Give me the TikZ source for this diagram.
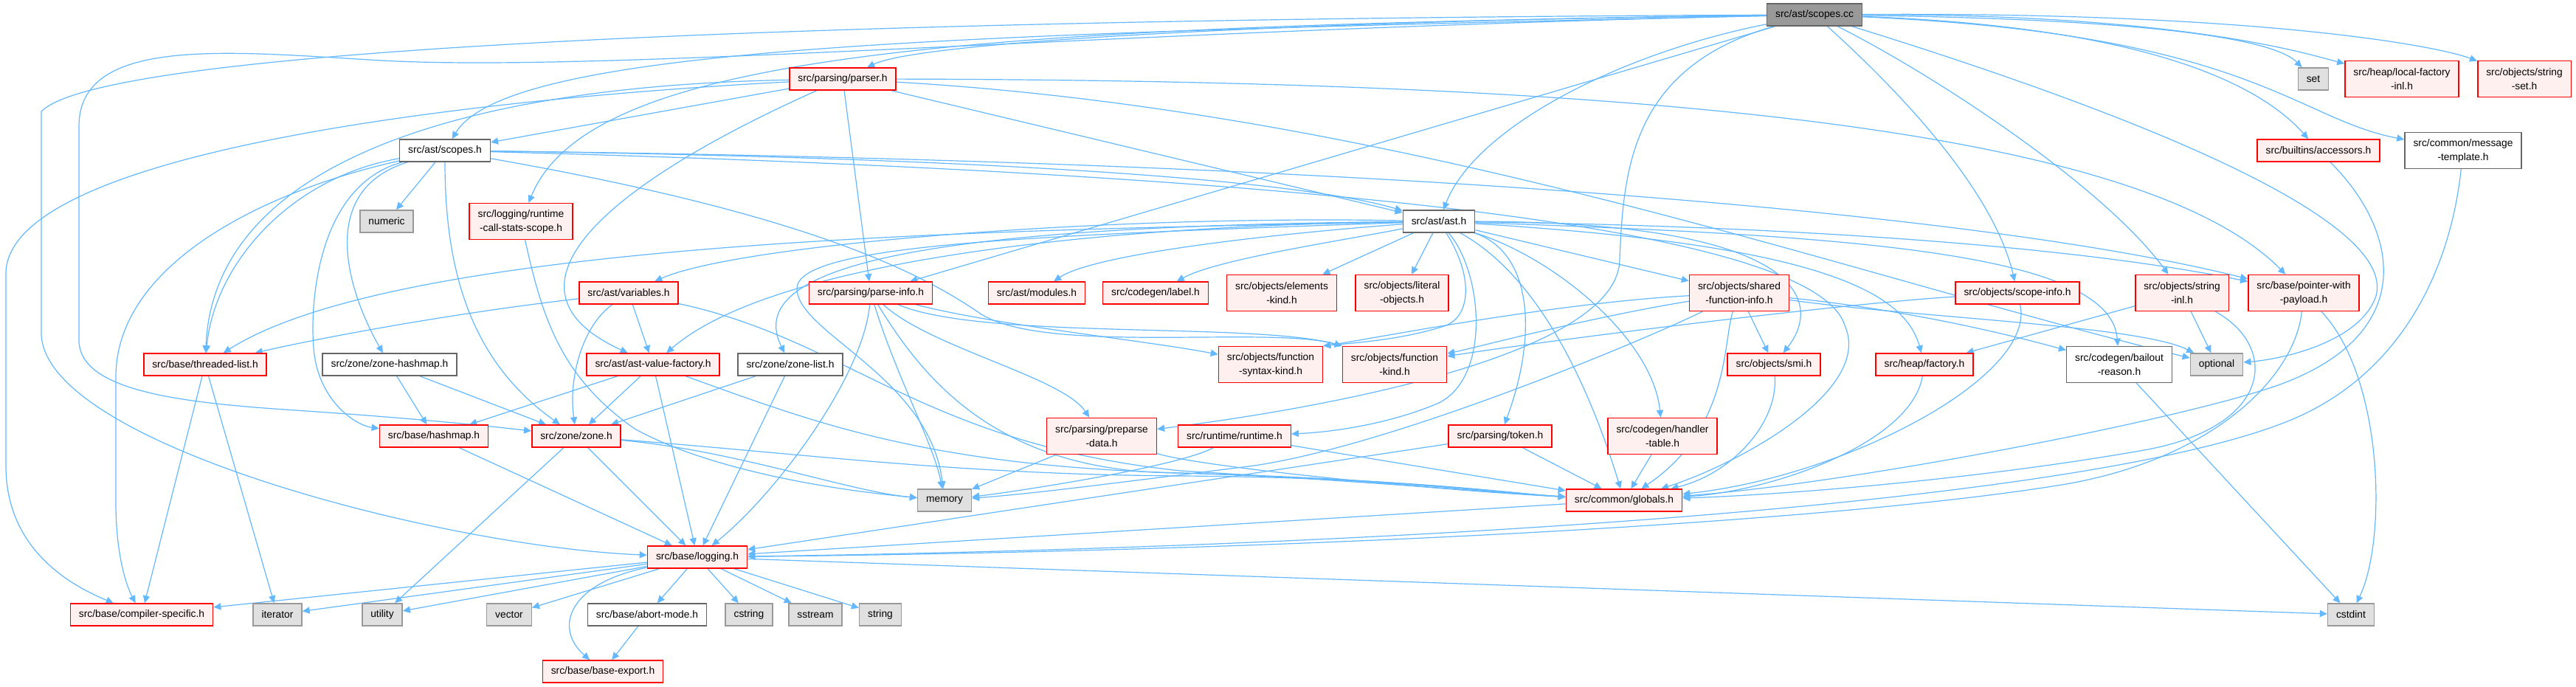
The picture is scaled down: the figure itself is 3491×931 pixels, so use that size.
\documentclass[tikz,border=0pt]{standalone}
\usepackage{fontspec}
\setmainfont{Liberation Sans}
\usetikzlibrary{arrows.meta}
\pgfdeclarelayer{bg}
\pgfsetlayers{bg,main}
\definecolor{edgec}{HTML}{63B8FF}
\definecolor{redfill}{HTML}{FFF0F0}
\definecolor{redline}{HTML}{FF0000}
\definecolor{grayfill}{HTML}{E0E0E0}
\definecolor{grayline}{HTML}{999999}
\definecolor{whiteline}{HTML}{666666}
\definecolor{rootfill}{HTML}{999999}
\definecolor{rootline}{HTML}{666666}
\tikzset{
  nbase/.style={draw, line width=0.75pt, font=\fontsize{6.9}{9.5}\selectfont, inner xsep=5.75pt, inner ysep=2pt, minimum height=15pt, align=center, text=black},
  redn/.style={nbase, draw=redline, fill=redfill},
  redn2/.style={redn, minimum height=24.5pt},
  whiten/.style={nbase, draw=whiteline, fill=white},
  whiten2/.style={whiten, minimum height=24.5pt},
  grayn/.style={nbase, draw=grayline, fill=grayfill},
  rootn/.style={nbase, draw=rootline, fill=rootfill},
  edg/.style={draw=edgec, line width=0.6pt, -{Triangle[length=5pt,width=4.6pt]}}
}
\begin{document}
\begin{tikzpicture}[x=0.5pt,y=0.5pt]
\useasboundingbox (0,0) rectangle (3491,931);
% nodes
\node[rootn] (scopescc) at (2459,911) {src/ast/scopes.cc};
\node[redn] (parser) at (1142,824) {src/parsing/parser.h};
\node[grayn] (set) at (3135,824) {set};
\node[redn2] (lfinl) at (3255,824) {src/heap/local-factory\\-inl.h};
\node[redn2] (strset) at (3421,824) {src/objects/string\\-set.h};
\node[whiten] (scopesh) at (603,727) {src/ast/scopes.h};
\node[redn] (accessors) at (3142,727) {src/builtins/accessors.h};
\node[whiten2] (msgtmpl) at (3338,727) {src/common/message\\-template.h};
\node[grayn] (numeric) at (524,631) {numeric};
\node[redn2] (rcss) at (706,631) {src/logging/runtime\\-call-stats-scope.h};
\node[whiten] (asth) at (1950,631) {src/ast/ast.h};
\node[redn] (variables) at (852,534) {src/ast/variables.h};
\node[redn] (parseinfo) at (1180,534) {src/parsing/parse-info.h};
\node[redn] (modules) at (1405,534) {src/ast/modules.h};
\node[redn] (label) at (1566,534) {src/codegen/label.h};
\node[redn2] (elkind) at (1737,534) {src/objects/elements\\-kind.h};
\node[redn2] (litobj) at (1900,534) {src/objects/literal\\-objects.h};
\node[redn2] (sfi) at (2357,534) {src/objects/shared\\-function-info.h};
\node[redn] (scopeinfo) at (2734,534) {src/objects/scope-info.h};
\node[redn2] (strinl) at (2957,534) {src/objects/string\\-inl.h};
\node[redn2] (pwp) at (3122,534) {src/base/pointer-with\\-payload.h};
\node[redn] (tlist) at (278,437) {src/base/threaded-list.h};
\node[whiten] (zhash) at (528,437) {src/zone/zone-hashmap.h};
\node[redn] (avf) at (885,437) {src/ast/ast-value-factory.h};
\node[whiten] (zlist) at (1071,437) {src/zone/zone-list.h};
\node[redn2] (fsk) at (1722,437) {src/objects/function\\-syntax-kind.h};
\node[redn2] (fkind) at (1890,437) {src/objects/function\\-kind.h};
\node[redn] (smi) at (2404,437) {src/objects/smi.h};
\node[redn] (factory) at (2608,437) {src/heap/factory.h};
\node[whiten2] (bailout) at (2872,437) {src/codegen/bailout\\-reason.h};
\node[grayn] (optional) at (3004,437) {optional};
\node[redn] (hashmap) at (588,340) {src/base/hashmap.h};
\node[redn] (zone) at (781,340) {src/zone/zone.h};
\node[redn2] (preparse) at (1493,340) {src/parsing/preparse\\-data.h};
\node[redn] (runtime) at (1673,340) {src/runtime/runtime.h};
\node[redn] (token) at (2033,340) {src/parsing/token.h};
\node[redn2] (htable) at (2253,340) {src/codegen/handler\\-table.h};
\node[grayn] (memory) at (1280,253) {memory};
\node[redn] (globals) at (2201,253) {src/common/globals.h};
\node[redn] (logging) at (945,176) {src/base/logging.h};
\node[redn] (compspec) at (192,98) {src/base/compiler-specific.h};
\node[grayn] (iterator) at (376,98) {iterator};
\node[grayn] (utility) at (518,98) {utility};
\node[grayn] (vector) at (690,98) {vector};
\node[whiten] (abort) at (877,98) {src/base/abort-mode.h};
\node[grayn] (cstring) at (1015,98) {cstring};
\node[grayn] (sstream) at (1105,98) {sstream};
\node[grayn] (string) at (1193,98) {string};
\node[grayn] (cstdint) at (3186,98) {cstdint};
\node[redn] (bexport) at (817,21) {src/base/base-export.h};
% edges
\begin{pgfonlayer}{bg}
\fill[white] (0,0) rectangle (3491,931);
% scopes.cc
\draw[edg] (scopescc) .. controls (1300,885) and (690,870) .. (scopesh);
\draw[edg] (scopescc) .. controls (1300,906) and (150,875) .. (56,780) -- (56,480) .. controls (56,330) and (600,190) .. (logging);
\draw[edg] (scopescc) .. controls (1500,890) and (800,830) .. (500,850) .. controls (300,862) and (107,880) .. (107,760) -- (107,470) .. controls (107,400) and (250,385) .. (400,375) .. controls (550,365) and (650,355) .. (zone);
\draw[edg] (scopescc) .. controls (1300,895) and (800,860) .. (rcss);
\draw[edg] (scopescc) .. controls (1900,905) and (1260,880) .. (parser);
\draw[edg] (scopescc) -- (parseinfo);
\draw[edg] (scopescc) .. controls (2200,860) and (2000,760) .. (asth);
\draw[edg] (scopescc) .. controls (2210,840) and (2200,700) .. (2195,580) .. controls (2195,460) and (1850,385) .. (preparse);
\draw[edg] (scopescc) .. controls (2560,820) and (2700,680) .. (scopeinfo);
\draw[edg] (scopescc) .. controls (2620,830) and (2850,680) .. (strinl);
\draw[edg] (scopescc) .. controls (2850,790) and (3250,640) .. (3220,530) .. controls (3200,470) and (3100,445) .. (optional);
\draw[edg] (scopescc) .. controls (2900,905) and (3080,880) .. (set);
\draw[edg] (scopescc) .. controls (2950,912) and (3120,860) .. (lfinl);
\draw[edg] (scopescc) .. controls (3050,915) and (3300,870) .. (strset);
\draw[edg] (scopescc) .. controls (2900,895) and (3060,820) .. (accessors);
\draw[edg] (scopescc) .. controls (3050,885) and (3110,770) .. (msgtmpl);
% parser.h
\draw[edg] (parser) -- (scopesh);
\draw[edg] (parser) .. controls (650,815) and (290,720) .. (tlist);
\draw[edg] (parser) .. controls (600,795) and (8,720) .. (8,560) -- (8,300) .. controls (8,190) and (90,140) .. (compspec);
\draw[edg] (parser) .. controls (820,680) and (660,540) .. (avf);
\draw[edg] (parser) -- (parseinfo);
\draw[edg] (parser) -- (asth);
\draw[edg] (parser) .. controls (2200,822) and (2900,760) .. (pwp);
\draw[edg] (parser) .. controls (1900,780) and (2500,560) .. (optional);
% scopes.h
\draw[edg] (scopesh) -- (numeric);
\draw[edg] (scopesh) .. controls (1300,718) and (1750,690) .. (asth);
\draw[edg] (scopesh) .. controls (1900,712) and (2700,640) .. (pwp);
\draw[edg] (scopesh) .. controls (1800,695) and (2460,620) .. (2500,490) .. controls (2540,400) and (2350,300) .. (globals);
\draw[edg] (scopesh) .. controls (1100,640) and (1250,560) .. (1330,505) .. controls (1420,450) and (1720,490) .. (fkind.north west);
\draw[edg] (scopesh) .. controls (350,670) and (157,570) .. (157,420) -- (157,250) .. controls (157,170) and (175,130) .. (compspec);
\draw[edg] (scopesh) .. controls (390,690) and (290,570) .. (tlist);
\draw[edg] (scopesh) .. controls (430,680) and (420,520) .. (425,460) .. controls (430,390) and (480,355) .. (hashmap);
\draw[edg] (scopesh) .. controls (420,670) and (480,520) .. (zhash);
\draw[edg] (scopesh) .. controls (603,560) and (640,440) .. (zone);
% runtime-call-stats-scope.h
\draw[edg] (rcss) .. controls (735,500) and (760,420) .. (860,350) .. controls (950,300) and (1100,270) .. (memory);
% ast.h
\draw[edg] (asth) .. controls (1400,612) and (1080,600) .. (1080,540) .. controls (1080,480) and (1260,420) .. (memory);
\draw[edg] (asth) .. controls (1500,625) and (1050,580) .. (avf);
\draw[edg] (asth) .. controls (1500,640) and (1000,600) .. (variables);
\draw[edg] (asth) .. controls (1300,625) and (1000,580) .. (zlist);
\draw[edg] (asth) .. controls (1400,620) and (550,610) .. (tlist);
\draw[edg] (asth) .. controls (1700,612) and (1480,585) .. (modules);
\draw[edg] (asth) .. controls (1820,605) and (1650,580) .. (label);
\draw[edg] (asth) -- (elkind);
\draw[edg] (asth) -- (litobj);
\draw[edg] (asth) .. controls (1995,560) and (1995,505) .. (1960,490) .. controls (1900,470) and (1830,466) .. (fsk.north east);
\draw[edg] (asth) .. controls (2075,590) and (2085,480) .. (token);
\draw[edg] (asth) .. controls (2110,580) and (2240,470) .. (htable);
\draw[edg] (asth) .. controls (2080,560) and (2150,420) .. (globals);
\draw[edg] (asth) -- (sfi);
\draw[edg] (asth) .. controls (2450,630) and (2470,520) .. (smi);
\draw[edg] (asth) .. controls (2450,600) and (2580,540) .. (factory);
\draw[edg] (asth) .. controls (2500,612) and (2860,590) .. (bailout);
\draw[edg] (asth) .. controls (2400,625) and (2800,600) .. (pwp);
\draw[edg] (asth) .. controls (2010,560) and (2020,420) .. (1950,385) .. controls (1880,355) and (1800,345) .. (runtime);
% variables.h
\draw[edg] (variables) .. controls (600,505) and (420,470) .. (tlist);
\draw[edg] (variables) .. controls (790,490) and (770,420) .. (zone);
\draw[edg] (variables) -- (avf);
\draw[edg] (variables) .. controls (1150,470) and (1250,330) .. (1600,293) .. controls (1900,275) and (2050,262) .. (globals);
% ast-value-factory.h
\draw[edg] (avf) -- (hashmap);
\draw[edg] (avf) -- (zone);
\draw[edg] (avf) -- (logging);
\draw[edg] (avf) .. controls (1100,360) and (1250,300) .. (1600,290) .. controls (1900,282) and (2050,262) .. (globals);
% zone-list.h, zone-hashmap.h, threaded-list.h
\draw[edg] (zlist) -- (zone);
\draw[edg] (zlist) -- (logging);
\draw[edg] (zhash) -- (hashmap);
\draw[edg] (zhash) -- (zone);
\draw[edg] (tlist) -- (iterator);
\draw[edg] (tlist) -- (compspec);
% hashmap.h, zone.h
\draw[edg] (hashmap) -- (logging);
\draw[edg] (zone) -- (utility);
\draw[edg] (zone) -- (logging);
\draw[edg] (zone) .. controls (1000,320) and (1150,265) .. (memory);
\draw[edg] (zone) .. controls (1100,315) and (1300,288) .. (1600,286) .. controls (1900,284) and (2050,262) .. (globals);
% parse-info.h
\draw[edg] (parseinfo) .. controls (1170,420) and (1050,260) .. (logging);
\draw[edg] (parseinfo) .. controls (1260,460) and (1440,420) .. (preparse);
\draw[edg] (parseinfo) .. controls (1215,420) and (1265,330) .. (memory);
\draw[edg] (parseinfo) .. controls (1350,490) and (1550,470) .. (fsk);
\draw[edg] (parseinfo) .. controls (1330,470) and (1700,495) .. (fkind.north west);
\draw[edg] (parseinfo) .. controls (1250,420) and (1350,290) .. (1600,290) .. controls (1900,280) and (2050,262) .. (globals);
% preparse-data.h, runtime.h, token.h, handler-table.h
\draw[edg] (preparse) -- (memory);
\draw[edg] (preparse) .. controls (1620,300) and (1900,270) .. (globals);
\draw[edg] (runtime) .. controls (1600,300) and (1400,268) .. (memory);
\draw[edg] (runtime) -- (globals);
\draw[edg] (token) -- (logging);
\draw[edg] (token) -- (globals);
\draw[edg] (htable) -- (globals);
\draw[edg] (globals) -- (logging);
% shared-function-info.h
\draw[edg] (sfi) .. controls (2250,480) and (1900,330) .. (1700,300) .. controls (1500,275) and (1400,262) .. (memory);
\draw[edg] (sfi) .. controls (2335,470) and (2345,350) .. (globals);
\draw[edg] (sfi) -- (smi);
\draw[edg] (sfi) .. controls (2100,520) and (1850,470) .. (fsk.north east);
\draw[edg] (sfi) .. controls (2150,500) and (2000,460) .. (fkind);
\draw[edg] (sfi) .. controls (2600,510) and (2750,470) .. (bailout);
\draw[edg] (sfi) .. controls (2600,500) and (2900,490) .. (optional);
% scope-info.h, string-inl.h
\draw[edg] (scopeinfo) .. controls (2760,420) and (2500,285) .. (globals);
\draw[edg] (scopeinfo) .. controls (2500,520) and (2100,470) .. (fkind);
\draw[edg] (strinl) -- (factory);
\draw[edg] (strinl) -- (optional);
\draw[edg] (strinl) .. controls (3090,460) and (3080,350) .. (2900,320) .. controls (2700,285) and (2450,262) .. (globals);
% smi.h, factory.h
\draw[edg] (smi) .. controls (2410,360) and (2350,290) .. (globals);
\draw[edg] (factory) .. controls (2590,330) and (2400,265) .. (globals);
% accessors.h, message-template.h, pointer-with-payload.h, bailout-reason.h
\draw[edg] (accessors) .. controls (3250,620) and (3280,480) .. (3090,410) .. controls (2950,360) and (2500,275) .. (globals);
\draw[edg] (msgtmpl) .. controls (3320,560) and (3250,420) .. (3100,360) .. controls (2800,240) and (1800,188) .. (logging);
\draw[edg] (pwp) .. controls (3110,420) and (3000,310) .. (2800,275) .. controls (2500,225) and (1800,185) .. (logging);
\draw[edg] (pwp) .. controls (3230,420) and (3235,200) .. (cstdint);
\draw[edg] (bailout) -- (cstdint);
% logging.h
\draw[edg] (logging) -- (compspec);
\draw[edg] (logging) -- (iterator);
\draw[edg] (logging) -- (utility);
\draw[edg] (logging) -- (vector);
\draw[edg] (logging) -- (abort);
\draw[edg] (logging) -- (cstring);
\draw[edg] (logging) -- (sstream);
\draw[edg] (logging) -- (string);
\draw[edg] (logging) -- (cstdint);
\draw[edg] (logging) .. controls (770,140) and (750,80) .. (bexport);
\draw[edg] (abort) -- (bexport);
\end{pgfonlayer}
\end{tikzpicture}
\end{document}
